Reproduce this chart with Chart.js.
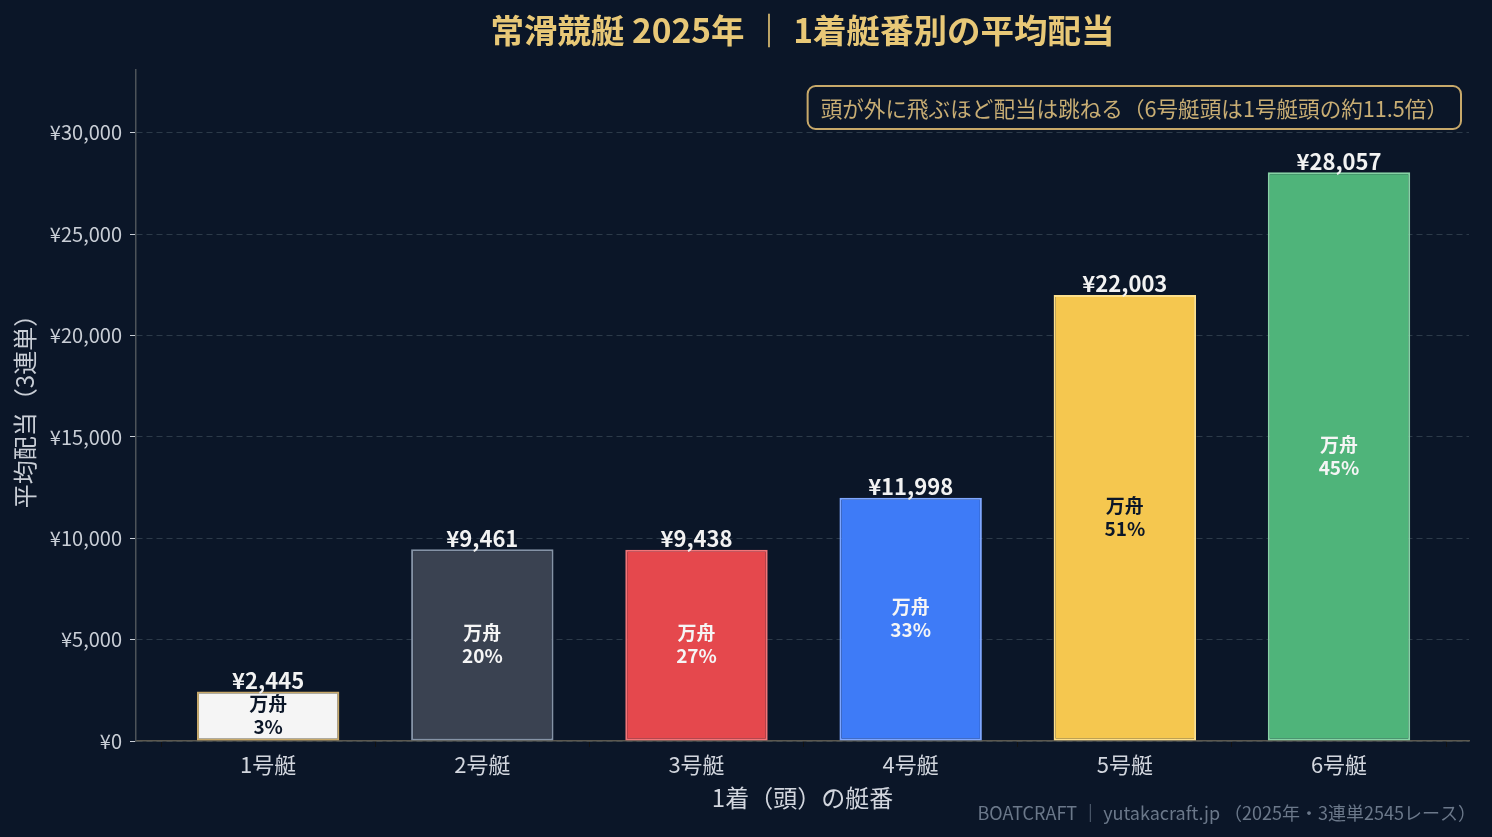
<!DOCTYPE html>
<html lang="ja">
<head>
<meta charset="utf-8">
<title>常滑競艇 2025年 1着艇番別の平均配当</title>
<script src="https://cdn.jsdelivr.net/npm/chart.js@4.4.1/dist/chart.umd.min.js"></script>
<style>
  html, body { margin: 0; padding: 0; background: #0b1628; }
  #wrap { width: 1492px; height: 837px; }
</style>
</head>
<body>
<div id="wrap"><canvas id="payoutChart" width="1492" height="837"></canvas></div>
<script>
// データ
const boatLabels = ['1号艇', '2号艇', '3号艇', '4号艇', '5号艇', '6号艇'];
const avgPayout = [2445, 9461, 9438, 11998, 22003, 28057];
const manshuRate = [3, 20, 27, 33, 51, 45];
const yTickValues = [0, 5000, 10000, 15000, 20000, 25000, 30000];

const titleText = '常滑競艇 2025年 ｜ 1着艇番別の平均配当';
const noteText = '頭が外に飛ぶほど配当は跳ねる（6号艇頭は1号艇頭の約11.5倍）';
const footerText = 'BOATCRAFT ｜ yutakacraft.jp （2025年・3連単2545レース）';

// 見た目
const FONT = '"Noto Sans CJK JP", "Noto Sans", sans-serif';
const BG = '#0b1628';
const barFill = ['#f5f5f5', '#3a4251', '#e5484d', '#3e7bf7', '#f5c74f', '#4fb47a'];
const barEdge = ['#c8a96a', '#8593a6', '#f27679', '#7ea6ff', '#fde08c', '#88d3a6'];
const innerText = ['#0b1628', '#f5f5f5', '#f5f5f5', '#f5f5f5', '#0b1628', '#f5f5f5'];

const yen = v => '¥' + v.toLocaleString('en-US');

const decorPlugin = {
    id: 'decor',
    beforeDraw(chart) {
        const ctx = chart.ctx;
        ctx.save();
        ctx.fillStyle = BG;
        ctx.fillRect(0, 0, chart.width, chart.height);
        ctx.restore();
    },
    afterDatasetsDraw(chart) {
        const ctx = chart.ctx;
        const meta = chart.getDatasetMeta(0);
        ctx.save();
        ctx.textAlign = 'center';
        meta.data.forEach((bar, i) => {
            // 上の金額
            ctx.fillStyle = '#f2f2f2';
            ctx.font = 'bold 22px ' + FONT;
            ctx.textBaseline = 'bottom';
            ctx.fillText(yen(avgPayout[i]), bar.x, bar.y);
            // 中の万舟率
            const mid = (bar.y + bar.base) / 2;
            ctx.fillStyle = innerText[i];
            ctx.font = 'bold 19px ' + FONT;
            ctx.textBaseline = 'middle';
            ctx.fillText('万舟', bar.x, mid - 12);
            ctx.fillText(manshuRate[i] + '%', bar.x, mid + 11);
        });
        ctx.restore();
    },
    afterDraw(chart) {
        const ctx = chart.ctx;
        const area = chart.chartArea;
        ctx.save();
        // タイトル
        ctx.fillStyle = '#e8c877';
        ctx.font = 'bold 33.5px ' + FONT;
        ctx.textAlign = 'center';
        ctx.textBaseline = 'middle';
        ctx.fillText(titleText, (area.left + area.right) / 2, 30);

        // 注記ボックス
        ctx.font = '21.6px ' + FONT;
        const w = ctx.measureText(noteText).width + 26;
        const bx = area.right - 8 - w, by = 86, bh = 43;
        ctx.beginPath();
        ctx.roundRect(bx, by, w, bh, 8);
        ctx.fillStyle = BG;
        ctx.fill();
        ctx.lineWidth = 2;
        ctx.strokeStyle = '#c8a96a';
        ctx.stroke();
        ctx.fillStyle = '#c9ae74';
        ctx.textAlign = 'left';
        ctx.fillText(noteText, bx + 13, by + bh / 2 + 1);

        // フッター
        ctx.font = '18px ' + FONT;
        ctx.fillStyle = '#6b788a';
        ctx.textAlign = 'right';
        ctx.fillText(footerText, area.right + 7, 813);
        ctx.restore();
    }
};

new Chart(document.getElementById('payoutChart'), {
    type: 'bar',
    data: {
        datasets: [{
            data: avgPayout.map((v, i) => ({ x: i, y: v })),
            backgroundColor: barFill,
            borderColor: barEdge,
            borderWidth: 2,
            borderSkipped: false,
            categoryPercentage: 1.0,
            barPercentage: 0.665
        }]
    },
    options: {
        responsive: false,
        animation: false,
        devicePixelRatio: 1,
        layout: { padding: { top: 70, right: 23, left: 0, bottom: 0 } },
        plugins: {
            legend: { display: false },
            tooltip: { enabled: false }
        },
        scales: {
            x: {
                type: 'linear',
                offset: false,
                min: -0.617,
                max: 5.607,
                afterBuildTicks: scale => { scale.ticks = boatLabels.map((_, i) => ({ value: i })); },
                afterFit: scale => { scale.height = 96; },
                ticks: {
                    callback: v => boatLabels[v],
                    color: '#d2d6de',
                    font: { family: FONT, size: 22 },
                    padding: 4
                },
                grid: { drawOnChartArea: false, drawTicks: true, tickLength: 6, tickColor: '#111' },
                border: { color: '#5b584f', width: 1.5 },
                title: {
                    display: true,
                    text: '1着（頭）の艇番',
                    color: '#d2d6de',
                    font: { family: FONT, size: 24 },
                    padding: { top: 0, bottom: 25 }
                }
            },
            y: {
                min: 0,
                max: 33100,
                afterBuildTicks: scale => { scale.ticks = yTickValues.map(v => ({ value: v })); },
                afterFit: scale => { scale.width = 136; },
                ticks: {
                    callback: v => yen(v),
                    color: '#c9ced6',
                    font: { family: FONT, size: 20 },
                    padding: 8
                },
                grid: {
                    color: '#2c3a49',
                    lineWidth: 1,
                    tickLength: 6,
                    tickColor: '#c9ced6',
                    tickBorderDash: []
                },
                border: { color: '#4d5359', width: 1.5, dash: [6, 4] },
                title: {
                    display: true,
                    text: '平均配当（3連単）',
                    color: '#c9ced6',
                    font: { family: FONT, size: 24 },
                    padding: { top: 10, bottom: 0 }
                }
            }
        }
    },
    plugins: [decorPlugin]
});
</script>
</body>
</html>
